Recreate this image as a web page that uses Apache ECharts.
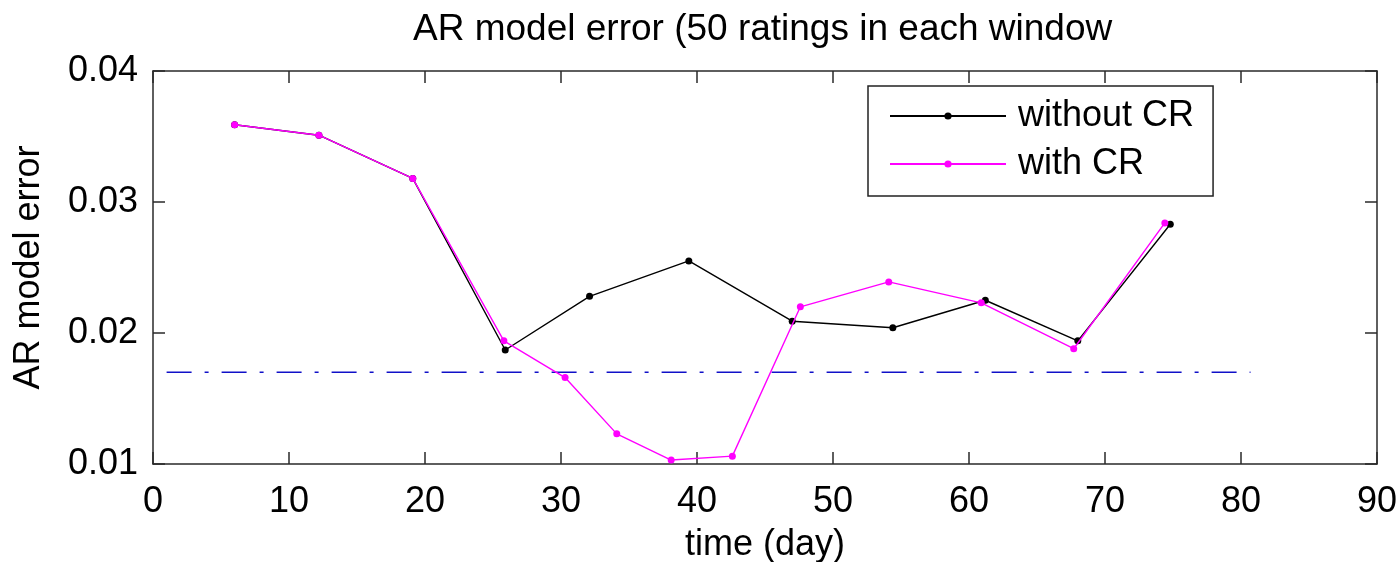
<!DOCTYPE html>
<html>
<head>
<meta charset="utf-8">
<script src="https://cdn.jsdelivr.net/npm/echarts@6/dist/echarts.min.js"></script>
<style>
html,body{margin:0;padding:0;background:#fff;}
#chart{width:1399px;height:562px;}
</style>
</head>
<body>
<div id="chart"></div>
<script>
// ---- data ----
var titleText = 'AR model error (50 ratings in each window';
var xName = 'time (day)';
var yName = 'AR model error';
var seriesNames = ['without CR', 'with CR'];

var timeWithout = [6.0, 12.2, 19.1, 25.9, 32.1, 39.4, 47.0, 54.4, 61.2, 68.0, 74.8];
var errWithout  = [0.0359, 0.0351, 0.0318, 0.0187, 0.0228, 0.0255, 0.0209, 0.0204, 0.0225, 0.0194, 0.0283];

var timeWith = [6.0, 12.2, 19.1, 25.8, 30.3, 34.1, 38.1, 42.6, 47.6, 54.1, 60.9, 67.7, 74.4];
var errWith  = [0.0359, 0.0351, 0.0318, 0.0194, 0.0166, 0.0123, 0.0103, 0.0106, 0.0220, 0.0239, 0.0223, 0.0188, 0.0284];

var thresholdX = [1, 80.7];
var thresholdY = [0.0170, 0.0170];

var xTicks = [0, 10, 20, 30, 40, 50, 60, 70, 80, 90];
var yTicks = [0.01, 0.02, 0.03, 0.04];

function zip(a, b) { return a.map(function (v, i) { return [v, b[i]]; }); }

var FONT = '"Liberation Sans", Arial, Helvetica, sans-serif';
var AX = '#2a2a2a';

var chart = echarts.init(document.getElementById('chart'), null, {renderer: 'canvas'});

function xAxisBase(pos, show) {
  return {
    type: 'value', position: pos,
    min: xTicks[0], max: xTicks[xTicks.length - 1], interval: 10,
    axisLine: {show: true, onZero: false, lineStyle: {color: AX, width: 1.5}},
    axisTick: {show: true, inside: true, length: 12, lineStyle: {color: AX, width: 1.5}},
    splitLine: {show: false},
    axisLabel: {show: show, color: '#000', fontSize: 36, fontFamily: FONT, margin: 20}
  };
}
function yAxisBase(pos, show) {
  return {
    type: 'value', position: pos,
    min: yTicks[0], max: yTicks[yTicks.length - 1], interval: 0.01,
    axisLine: {show: true, onZero: false, lineStyle: {color: AX, width: 1.5}},
    axisTick: {show: true, inside: true, length: 12, lineStyle: {color: AX, width: 1.5}},
    splitLine: {show: false},
    axisLabel: {show: show, color: '#000', fontSize: 36, fontFamily: FONT, margin: 15,
      formatter: function (v) { return v.toFixed(2); }}
  };
}

var xMain = xAxisBase('bottom', true);
xMain.name = xName;
xMain.nameLocation = 'middle';
xMain.nameGap = 63;
xMain.nameTextStyle = {color: '#000', fontSize: 36, fontFamily: FONT};

var yMain = yAxisBase('left', true);
yMain.name = yName;
yMain.nameLocation = 'middle';
yMain.nameRotate = 90;
yMain.nameGap = 106;
yMain.nameTextStyle = {color: '#000', fontSize: 36, fontFamily: FONT};

var option = {
  backgroundColor: '#fff',
  animation: false,
  title: {
    text: titleText,
    left: 408, top: 6,
    textStyle: {color: '#000', fontSize: 37, fontWeight: 'normal', fontFamily: FONT}
  },
  grid: {left: 153, right: 22, top: 71, bottom: 98, containLabel: false, outerBoundsMode: 'none'},
  legend: {
    data: seriesNames,
    orient: 'vertical',
    left: 868, top: 86,
    backgroundColor: '#fff',
    borderColor: '#222', borderWidth: 1.5,
    padding: [6, 19, 8, 21],
    itemGap: 0,
    itemWidth: 116, itemHeight: 9,
    textStyle: {color: '#000', fontSize: 36, fontFamily: FONT, lineHeight: 48, padding: [0, 0, 0, 7]}
  },
  xAxis: [xMain, xAxisBase('top', false)],
  yAxis: [yMain, yAxisBase('right', false)],
  series: [
    {
      name: seriesNames[0], type: 'line', xAxisIndex: 0, yAxisIndex: 0,
      data: zip(timeWithout, errWithout),
      symbol: 'circle', symbolSize: 7, showAllSymbol: true,
      lineStyle: {color: '#000', width: 1.4},
      itemStyle: {color: '#000'},
      z: 3
    },
    {
      name: seriesNames[1], type: 'line', xAxisIndex: 0, yAxisIndex: 0,
      data: zip(timeWith, errWith),
      symbol: 'circle', symbolSize: 7, showAllSymbol: true,
      lineStyle: {color: '#ff00ff', width: 1.4},
      itemStyle: {color: '#ff00ff'},
      z: 4
    },
    {
      name: 'threshold', type: 'line', xAxisIndex: 0, yAxisIndex: 0,
      data: zip(thresholdX, thresholdY),
      symbol: 'none',
      lineStyle: {color: '#1010c8', width: 1.5, type: [25, 13, 4, 13]},
      z: 2
    }
  ]
};
chart.setOption(option);
</script>
</body>
</html>
